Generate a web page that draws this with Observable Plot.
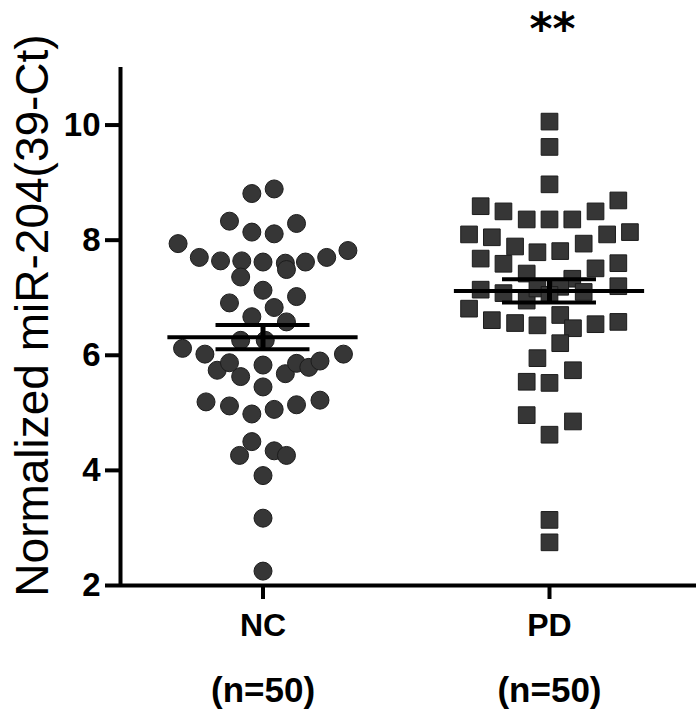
<!DOCTYPE html>
<html>
<head>
<meta charset="utf-8">
<script src="https://cdn.jsdelivr.net/npm/d3@7"></script>
<script src="https://cdn.jsdelivr.net/npm/@observablehq/plot@0.6"></script>
<style>
  html, body { margin: 0; padding: 0; background: #fff; }
  #chart svg { display: block; }
</style>
</head>
<body>
<div id="chart"></div>
<script>
// ---- data ----
const groups = ["NC", "PD"];
const groupCounts = ["(n=50)", "(n=50)"];
const yTicks = [2, 4, 6, 8, 10];
const yLabel = "Normalized miR-204(39-Ct)";
const significance = "**";

// NC (normal control) values and their horizontal scatter slot
const ncValues = [8.81, 8.89, 8.33, 8.14, 8.11, 8.29, 7.94, 7.70, 7.64, 7.64,
  7.36, 7.62, 7.60, 7.49, 7.62, 7.70, 7.82, 7.13, 6.91, 7.02,
  6.83, 6.67, 6.58, 6.26, 6.26, 6.12, 6.02, 6.02, 5.74, 5.63,
  5.68, 5.45, 5.19, 5.12, 4.98, 5.06, 5.14, 5.22, 4.50, 4.26,
  4.34, 4.26, 3.91, 3.17, 2.25, 5.87, 5.83, 5.86, 5.79, 5.90];
const ncSlots = [-0.5, 0.5, -1.5, -0.5, 0.5, 1.5, -3.8, -2.85, -1.9, -0.95,
  -1.0, 0, 1.0, 1.05, 1.9, 2.85, 3.8, 0, -1.5, 1.5,
  0.5, -0.5, 1.05, -1.0, 0.1, -3.6, -2.6, 3.6, -2.05, -1.0,
  1.0, 0, -2.55, -1.5, -0.5, 0.5, 1.5, 2.55, -0.5, -1.05,
  0.5, 1.05, 0, 0, 0, -1.5, 0, 1.5, 2.05, 2.55];

// PD (Parkinson's disease) values and their horizontal scatter slot
const pdValues = [10.06, 9.62, 8.97, 8.59, 8.50, 8.36, 8.36, 8.36, 8.50, 8.69,
  8.10, 8.05, 7.89, 7.79, 7.81, 7.94, 8.10, 8.14, 7.68, 7.59,
  7.51, 7.60, 7.42, 7.33, 7.14, 7.08, 7.20, 6.81, 6.61, 6.56,
  6.52, 6.70, 6.47, 6.54, 6.58, 6.21, 5.95, 5.74, 5.54, 5.52,
  4.96, 4.85, 4.62, 3.14, 2.75, 6.95, 7.16, 7.19, 7.10, 7.05];
const pdSlots = [0, 0, 0, -3.08, -2.06, -1.02, 0, 1.02, 2.06, 3.08,
  -3.6, -2.58, -1.54, -0.54, 0.48, 1.53, 2.58, 3.6, -3.08, -2.06,
  2.06, 3.08, -1.02, 1.02, -3.08, -2.06, 3.08, -3.6, -2.58, -1.54,
  -0.54, 0.48, 1.05, 2.06, 3.08, 0.48, -0.54, 1.05, -1.02, 0,
  -1.02, 1.05, 0, 0, 0, -1.02, -0.54, 0.48, 1.53, 0];

// ---- build tables ----
const slotWidth = 0.078;       // one scatter slot in x-scale units
const meanHalf = 0.332;        // half width of mean line
const capHalf = 0.164;         // half width of SEM caps

const points = [
  ...ncValues.map((v, i) => ({group: 0, value: v, slot: ncSlots[i]})),
  ...pdValues.map((v, i) => ({group: 1, value: v, slot: pdSlots[i]}))
];
const stats = [ncValues, pdValues].map((vals, g) => {
  const m = d3.mean(vals);
  const sem = d3.deviation(vals) / Math.sqrt(vals.length);
  return {group: g, mean: m, lo: m - sem, hi: m + sem};
});
const xDomain = [-0.4974, 1.5131];
const font = "'Liberation Sans', Arial, Helvetica, sans-serif";
const ink = "#000";

const chart = Plot.plot({
  width: 700,
  height: 722,
  marginLeft: 120,
  marginRight: 4,
  marginTop: 67,
  marginBottom: 137,
  style: {fontFamily: font, background: "#fff", overflow: "visible"},
  x: {domain: xDomain, axis: null},
  y: {domain: [2, 11], axis: null},
  marks: [
    // data points
    Plot.dot(points.filter(d => d.group === 0), {
      x: d => d.group + d.slot * slotWidth, y: "value",
      r: 9, symbol: "circle", fill: "#363636", stroke: "#1c1c1c", strokeWidth: 1
    }),
    Plot.dot(points.filter(d => d.group === 1), {
      x: d => d.group + d.slot * slotWidth, y: "value",
      r: 9.4, symbol: "square", fill: "#363636", stroke: "#1c1c1c", strokeWidth: 1
    }),
    // mean and SEM
    Plot.ruleY(stats, {y: "mean", x1: d => d.group - meanHalf, x2: d => d.group + meanHalf, stroke: ink, strokeWidth: 4}),
    Plot.ruleY(stats, {y: "hi", x1: d => d.group - capHalf, x2: d => d.group + capHalf, stroke: ink, strokeWidth: 4}),
    Plot.ruleY(stats, {y: "lo", x1: d => d.group - capHalf, x2: d => d.group + capHalf, stroke: ink, strokeWidth: 4}),
    Plot.ruleX(stats, {x: "group", y1: "lo", y2: "hi", stroke: ink, strokeWidth: 5}),
    // axes lines
    Plot.ruleX([xDomain[0]], {y1: 2, y2: 11, stroke: ink, strokeWidth: 4}),
    Plot.ruleY([2], {x1: xDomain[0], x2: xDomain[1], stroke: ink, strokeWidth: 4}),
    Plot.axisY({
      ticks: yTicks, tickSize: 15, tickPadding: 5, strokeWidth: 4, stroke: ink,
      fontSize: 33, fontWeight: "bold", label: null, fill: ink
    }),
    Plot.axisX({
      ticks: [0, 1], tickSize: 14, tickPadding: 14, strokeWidth: 4, stroke: ink,
      tickFormat: i => groups[i], fontSize: 32, fontWeight: "bold", label: null, fill: ink
    }),
    // group counts
    Plot.text(groups.map((g, i) => ({group: i, label: groupCounts[i]})), {
      x: "group", y: () => 2, text: "label", dy: 105,
      fontSize: 35, fontWeight: "bold", fill: ink
    }),
    // significance stars
    Plot.text([{group: 1, label: significance}], {
      x: "group", y: () => 11, text: "label", dy: -38, dx: 3,
      fontSize: 44, fontWeight: "bold", fill: ink, fontFamily: "'DejaVu Sans', sans-serif"
    }),
    // y-axis title
    Plot.text([yLabel], {
      frameAnchor: "left", dx: -87, dy: -11, rotate: -90, textAnchor: "middle",
      fontSize: 46, fill: ink, text: d => d
    })
  ]
});
document.getElementById("chart").appendChild(chart);
</script>
</body>
</html>
